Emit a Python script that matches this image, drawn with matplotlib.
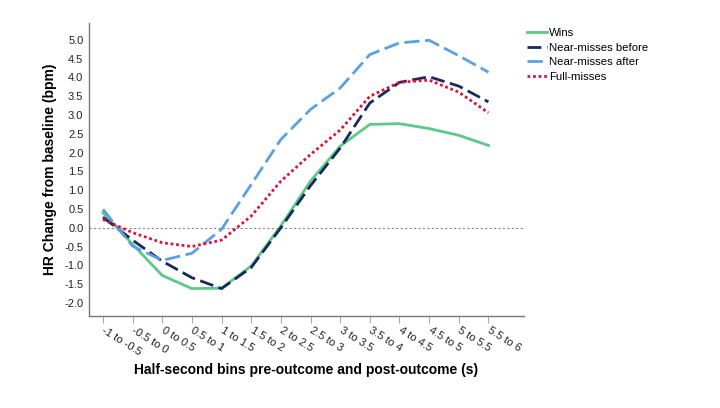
import matplotlib
matplotlib.use('Agg')
from matplotlib import pyplot as plt

plt.rcParams['font.family'] = ['Liberation Sans', 'DejaVu Sans']

bins = ['-1 to -0.5', '-0.5 to 0', '0 to 0.5', '0.5 to 1', '1 to 1.5', '1.5 to 2',
        '2 to 2.5', '2.5 to 3', '3 to 3.5', '3.5 to 4', '4 to 4.5', '4.5 to 5',
        '5 to 5.5', '5.5 to 6']
wins = [0.40, -0.44, -1.27, -1.62, -1.61, -1.02, 0.05, 1.24, 2.17, 2.75, 2.77, 2.64, 2.46, 2.19]
near_before = [0.28, -0.33, -0.89, -1.33, -1.62, -1.06, 0.0, 1.12, 2.12, 3.32, 3.87, 4.02, 3.77, 3.35]
near_after = [0.49, -0.49, -0.87, -0.68, -0.04, 1.15, 2.35, 3.15, 3.72, 4.61, 4.92, 4.99, 4.58, 4.14]
full_misses = [0.22, -0.13, -0.40, -0.50, -0.33, 0.31, 1.24, 1.95, 2.60, 3.50, 3.87, 3.93, 3.61, 3.06]
yticks = [-2.0, -1.5, -1.0, -0.5, 0.0, 0.5, 1.0, 1.5, 2.0, 2.5, 3.0, 3.5, 4.0, 4.5, 5.0]

fig = plt.figure(figsize=(7.2, 4.08), dpi=100)
ax = fig.add_axes([0.1236, 0.2255, 0.6042, 0.7181])

x = list(range(len(bins)))
ax.axhline(0, color='#888888', linewidth=0.8, linestyle=(0, (2, 2)), zorder=1)
ax.plot(x, wins, color='#5cc985', linewidth=2, label='Wins')
ax.plot(x, near_before, color='#17295e', linewidth=2, dashes=(5, 2), label='Near-misses before')
ax.plot(x, near_after, color='#5aa0e6', linewidth=2, dashes=(5.5, 2), label='Near-misses after')
ax.plot(x, full_misses, color='#e0103e', linewidth=2, dashes=(1, 1), label='Full-misses')

ax.set_xlim(-0.47, 14.2)
ax.set_ylim(-2.35, 5.45)
ax.set_yticks(yticks)
ax.set_yticklabels(['%.1f' % v for v in yticks])
ax.set_xticks(x)
ax.set_xticklabels(bins, rotation=-32, ha='left', va='center', rotation_mode='anchor')

for s in ['top', 'right']:
    ax.spines[s].set_visible(False)
for s in ['left', 'bottom']:
    ax.spines[s].set_color('#777777')
    ax.spines[s].set_linewidth(1)
ax.tick_params(axis='y', length=0, pad=4, labelsize=8, labelcolor='#222222')
ax.tick_params(axis='x', length=5, color='#aaaaaa', pad=5, labelsize=8, labelcolor='#222222')

ax.set_xlabel('Half-second bins pre-outcome and post-outcome (s)', fontsize=10,
              fontweight='bold', labelpad=4)
ax.set_ylabel('HR Change from baseline (bpm)', fontsize=10, fontweight='bold', labelpad=5)

fig.legend(loc='upper left', bbox_to_anchor=(0.726, 0.943), frameon=False, fontsize=8.2,
           handlelength=1.7, handletextpad=0.2, labelspacing=0.42, borderaxespad=0)

plt.savefig('out.png', dpi=100)
